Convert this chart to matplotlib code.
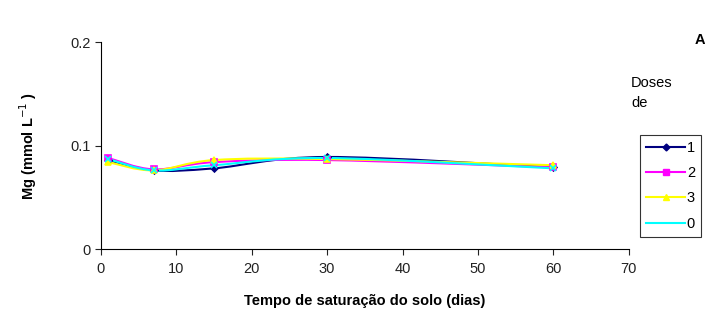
import matplotlib
matplotlib.use("Agg")
import matplotlib.pyplot as plt
import numpy as np
from matplotlib.path import Path
from matplotlib.patches import PathPatch
from matplotlib.lines import Line2D

plt.rcParams["font.family"] = ["Liberation Sans", "DejaVu Sans"]

dias = [1, 7, 15, 30, 60]
mg_dose1 = [0.086, 0.076, 0.078, 0.089, 0.079]
mg_dose2 = [0.088, 0.077, 0.084, 0.086, 0.079]
mg_dose3 = [0.084, 0.076, 0.086, 0.087, 0.081]
mg_dose0 = [0.087, 0.076, 0.081, 0.088, 0.078]
doses = ["1", "2", "3", "0"]
series = [mg_dose1, mg_dose2, mg_dose3, mg_dose0]
colors = ["#000080", "#ff00ff", "#ffff00", "#00ffff"]
markers = ["D", "s", "^", "x"]
msizes = [3.5, 5, 5, 5]


def smooth_path(x, y):
    # Catmull-Rom style smoothing like the spreadsheet's smoothed line
    x = np.asarray(x, float)
    y = np.asarray(y, float)
    verts = [(x[0], y[0])]
    codes = [Path.MOVETO]
    n = len(x)
    for i in range(n - 1):
        p0 = (x[max(i - 1, 0)], y[max(i - 1, 0)])
        p1 = (x[i], y[i])
        p2 = (x[i + 1], y[i + 1])
        p3 = (x[min(i + 2, n - 1)], y[min(i + 2, n - 1)])
        c1 = (p1[0] + (p2[0] - p0[0]) / 6, p1[1] + (p2[1] - p0[1]) / 6)
        c2 = (p2[0] - (p3[0] - p1[0]) / 6, p2[1] - (p3[1] - p1[1]) / 6)
        verts += [c1, c2, p2]
        codes += [Path.CURVE4] * 3
    return Path(verts, codes)


fig = plt.figure(figsize=(7.05, 3.21), dpi=100)
ax = fig.add_axes([0.143, 0.224, 0.749, 0.645])

handles = []
for lab, vals, c, m, ms in zip(doses, series, colors, markers, msizes):
    ax.add_patch(PathPatch(smooth_path(dias, vals), facecolor="none", edgecolor=c, lw=1.5))
    ax.plot(dias, vals, ls="none", marker=m, color=c, ms=ms, mew=1.2)
    handles.append(Line2D([], [], color=c, lw=1.5, marker=m if lab != "0" else None, ms=ms))

ax.set_xlim(0, 70)
ax.set_ylim(0, 0.2)
ax.set_xticks(range(0, 71, 10))
ax.set_yticks([0, 0.1, 0.2])
ax.set_yticklabels(["0", "0.1", "0.2"])
ax.spines["top"].set_visible(False)
ax.spines["right"].set_visible(False)
ax.tick_params(direction="out", length=4, width=0.8, labelsize=10.5, colors="#222222")
ax.tick_params(axis="x", pad=5)
ax.set_xlabel("Tempo de saturação do solo (dias)", fontsize=10.5, fontweight="bold", labelpad=13)
ax.set_ylabel("Mg (mmol L$^{-1}$ )", fontsize=10.5, fontweight="bold", labelpad=22)

fig.text(0.986, 0.875, "A", fontsize=10.5, fontweight="bold", ha="left", va="center")
fig.text(0.895, 0.71, "Doses\nde", fontsize=10.5, ha="left", va="center", linespacing=1.5)
leg = fig.legend(handles, doses, loc="upper left", bbox_to_anchor=(0.908, 0.58),
                 frameon=True, fancybox=False, edgecolor="black", fontsize=10.5,
                 handlelength=2.7, handletextpad=0.1, borderpad=0.4, labelspacing=0.78,
                 borderaxespad=0)
leg.get_frame().set_linewidth(0.8)

fig.savefig("out.png", dpi=100)
